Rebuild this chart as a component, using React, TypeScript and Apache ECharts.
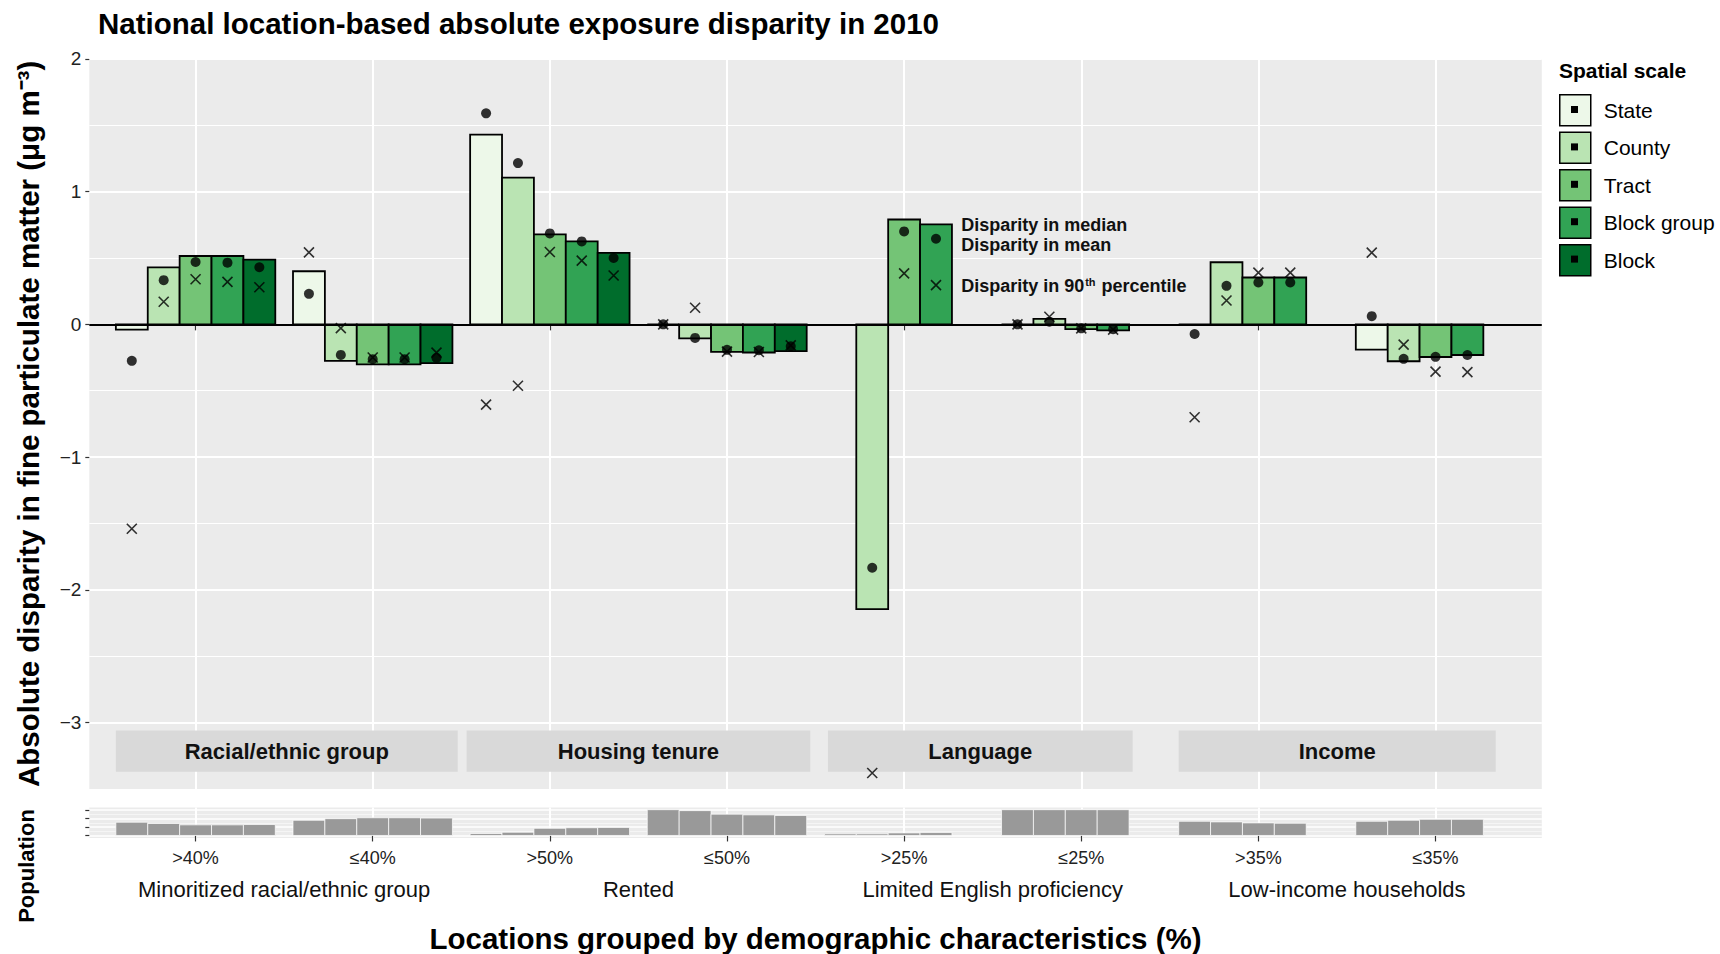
import React, { useEffect, useRef } from "react";
import * as echarts from "echarts";

// ---------- data ----------
const scales = ["State", "County", "Tract", "Block group", "Block"];
const scaleColors = ["#EDF8E9", "#BAE4B3", "#74C476", "#31A354", "#006D2C"];
const tickLabels = [">40%", "≤40%", ">50%", "≤50%", ">25%", "≤25%", ">35%", "≤35%"];
const groupNames = [
  "Minoritized racial/ethnic group",
  "Rented",
  "Limited English proficiency",
  "Low-income households",
];
const stripNames = ["Racial/ethnic group", "Housing tenure", "Language", "Income"];
const stripStart = [0.55, 2.53, 4.57, 6.55];
const stripEnd = [2.48, 4.47, 6.29, 8.34];
const stripTop = -3.06;
const stripBottom = -3.37;

// disparity in mean (bars)
const meanState = [-0.04, 0.4, 1.43, 0, null, 0, 0, -0.19];
const meanCounty = [0.43, -0.275, 1.105, -0.105, -2.145, 0.042, 0.468, -0.278];
const meanTract = [0.515, -0.302, 0.678, -0.208, 0.79, -0.036, 0.353, -0.246];
const meanBlockGroup = [0.515, -0.302, 0.625, -0.212, 0.754, -0.046, 0.353, -0.231];
const meanBlock = [0.488, -0.292, 0.538, -0.202, null, null, null, null];

// disparity in median (dots)
const medianState = [-0.275, 0.23, 1.59, 0, null, 0, -0.073, 0.062];
const medianCounty = [0.333, -0.23, 1.215, -0.102, -1.834, 0.02, 0.29, -0.26];
const medianTract = [0.47, -0.262, 0.685, -0.192, 0.7, -0.03, 0.316, -0.245];
const medianBlockGroup = [0.465, -0.262, 0.625, -0.195, 0.645, -0.037, 0.316, -0.231];
const medianBlock = [0.43, -0.252, 0.5, -0.165, null, null, null, null];

// disparity in 90th percentile (crosses)
const p90State = [-1.54, 0.542, -0.605, 0, null, 0, -0.7, 0.54];
const p90County = [0.17, -0.028, -0.463, 0.125, -3.38, 0.057, 0.18, -0.153];
const p90Tract = [0.34, -0.25, 0.545, -0.205, 0.384, -0.03, 0.39, -0.356];
const p90BlockGroup = [0.32, -0.25, 0.48, -0.208, 0.296, -0.04, 0.39, -0.36];
const p90Block = [0.28, -0.213, 0.368, -0.158, null, null, null, null];

// population (relative, axis units)
const popState = [1.56, 1.79, 0.23, 3.04, 0.19, 3.04, 1.67, 1.67];
const popCounty = [1.41, 1.98, 0.38, 2.93, 0.19, 3.04, 1.6, 1.79];
const popTract = [1.25, 2.09, 0.84, 2.51, 0.3, 3.04, 1.48, 1.9];
const popBlockGroup = [1.25, 2.09, 0.91, 2.43, 0.34, 3.04, 1.44, 1.9];
const popBlock = [1.29, 2.05, 0.95, 2.36, null, null, null, null];

const yTicks = [-3, -2, -1, 0, 1, 2];
const yMinor = [-2.5, -1.5, -0.5, 0.5, 1.5];
const popTicks = [0, 1, 2, 3];
const popMinor = [0.5, 1.5, 2.5];

const annotationTexts = ["Disparity in median", "Disparity in mean", "{b|Disparity in 90}{s|th}{b| percentile}"];
const annotationX = [5.322, 5.322, 5.322];
const annotationY = [0.749, 0.6, 0.286];

const meanByScale = [meanState, meanCounty, meanTract, meanBlockGroup, meanBlock];
const medianByScale = [medianState, medianCounty, medianTract, medianBlockGroup, medianBlock];
const p90ByScale = [p90State, p90County, p90Tract, p90BlockGroup, p90Block];
const popByScale = [popState, popCounty, popTract, popBlockGroup, popBlock];

// ---------- style constants ----------
const FONT = "'Liberation Sans', Arial, Helvetica, sans-serif";
const DODGE = 0.18;
const HALF = 0.09;
const XMIN = 0.4;
const XMAX = 8.6;
const LEG_LEFT = 1559;
const LEG_TOP = 94;
const LEG_KEY = 31;
const LEG_GAP = 5;
const LEG_STEP = 37.4;

const tickPositions = tickLabels.map((_, i) => i + 1);
const groupCenters = groupNames.map((_, i) => 2 * i + 1.5);
const xOf = (g: number, k: number) => g + 1 + (k - 2) * DODGE;

function pointsFor(values: (number | null)[], k: number) {
  const out: number[][] = [];
  values.forEach((v, g) => {
    if (v !== null && v !== undefined) out.push([xOf(g, k), v]);
  });
  return out;
}

const barRender = (fill: string, stroke: string, lw: number) => (params: any, api: any) => {
  const x = api.value(0);
  const v = api.value(1);
  const a = api.coord([x - HALF, 0]);
  const b = api.coord([x + HALF, v]);
  return {
    type: "rect",
    shape: {
      x: a[0],
      y: Math.min(a[1], b[1]),
      width: b[0] - a[0],
      height: Math.abs(b[1] - a[1]),
    },
    style: { fill, stroke, lineWidth: lw },
  };
};

export default function App() {
  const ref = useRef<HTMLDivElement>(null);

  useEffect(() => {
    document.body.style.margin = "0";
    if (!ref.current) return;
    const chart = echarts.init(ref.current, null, { renderer: "svg" });

    const barSeries = scales.map((name, k) => ({
      name,
      type: "custom",
      xAxisIndex: 0,
      yAxisIndex: 0,
      z: 3,
      itemStyle: { color: scaleColors[k], borderColor: "#000", borderWidth: 1.5 },
      encode: { x: 0, y: 1 },
      data: pointsFor(meanByScale[k], k),
      renderItem: barRender(scaleColors[k], "#000", 1.8),
    }));

    const popSeries = scales.map((name, k) => ({
      name: "Population " + name,
      type: "custom",
      xAxisIndex: 1,
      yAxisIndex: 2,
      z: 3,
      itemStyle: { color: "#999999" },
      encode: { x: 0, y: 1 },
      data: pointsFor(popByScale[k], k),
      renderItem: barRender("#999999", "#ffffff", 0.7),
    }));

    const medianData: number[][] = [];
    const p90Data: number[][] = [];
    scales.forEach((_, k) => {
      medianData.push(...pointsFor(medianByScale[k], k));
      p90Data.push(...pointsFor(p90ByScale[k], k));
    });

    const stripSeries = {
      name: "strips",
      type: "custom",
      xAxisIndex: 0,
      yAxisIndex: 0,
      z: 2,
      silent: true,
      encode: { x: [0, 2], y: [1, 3] },
      data: stripNames.map((_, i) => [stripStart[i], stripTop, stripEnd[i], stripBottom]),
      renderItem: (params: any, api: any) => {
        const i = params.dataIndex;
        const p0 = api.coord([api.value(0), api.value(1)]);
        const p1 = api.coord([api.value(2), api.value(3)]);
        return {
          type: "group",
          children: [
            {
              type: "rect",
              shape: { x: p0[0], y: p0[1], width: p1[0] - p0[0], height: p1[1] - p0[1] },
              style: { fill: "#D9D9D9" },
            },
            {
              type: "text",
              x: (p0[0] + p1[0]) / 2,
              y: (p0[1] + p1[1]) / 2,
              style: {
                text: stripNames[i],
                align: "center",
                verticalAlign: "middle",
                fontSize: 22,
                fontWeight: "bold",
                fontFamily: FONT,
                fill: "#111",
              },
            },
          ],
        };
      },
    };

    const annotationSeries = {
      name: "annotations",
      type: "custom",
      xAxisIndex: 0,
      yAxisIndex: 0,
      z: 5,
      silent: true,
      encode: { x: 0, y: 1 },
      data: annotationTexts.map((_, i) => [annotationX[i], annotationY[i]]),
      renderItem: (params: any, api: any) => {
        const i = params.dataIndex;
        const p = api.coord([api.value(0), api.value(1)]);
        return {
          type: "text",
          x: p[0],
          y: p[1],
          style: {
            text: annotationTexts[i],
            align: "left",
            verticalAlign: "middle",
            fontSize: 18,
            fontWeight: "bold",
            fontFamily: FONT,
            fill: "#111",
            rich: {
              b: { fontSize: 18, fontWeight: "bold", fontFamily: FONT, fill: "#111" },
              s: { fontSize: 11, fontWeight: "bold", fontFamily: FONT, fill: "#111", verticalAlign: "top", padding: [0, 1, 8, 1] },
            },
          },
        };
      },
    };

    const option: any = {
      animation: false,
      textStyle: { fontFamily: FONT },
      title: {
        text: "National location-based absolute exposure disparity in 2010",
        left: 98,
        top: 8,
        padding: 0,
        textStyle: { fontSize: 29.5, fontWeight: "bold", color: "#000", fontFamily: FONT },
      },
      legend: {
        data: scales,
        orient: "vertical",
        left: LEG_LEFT,
        top: LEG_TOP,
        padding: 0,
        itemWidth: LEG_KEY,
        itemHeight: LEG_KEY,
        itemGap: LEG_GAP,
        icon: "rect",
        itemStyle: { borderColor: "#000", borderWidth: 1.5 },
        textStyle: { fontSize: 21, color: "#000", fontFamily: FONT, padding: [0, 0, 0, 8] },
        selectedMode: false,
      },
      grid: [
        { left: 89.3, top: 58.9, width: 1452.5, height: 730, show: true, backgroundColor: "#EBEBEB", borderWidth: 0 },
        { left: 89.3, top: 807.5, width: 1452.5, height: 32, show: true, backgroundColor: "#EBEBEB", borderWidth: 0 },
      ],
      xAxis: [
        {
          type: "value",
          gridIndex: 0,
          min: XMIN,
          max: XMAX,
          axisLine: { show: false },
          axisTick: { show: true, customValues: tickPositions, length: 6, lineStyle: { color: "#333", width: 1.2 } },
          axisLabel: { show: false, customValues: tickPositions },
          splitLine: { show: true, lineStyle: { color: "#ffffff", width: 2 } },
        },
        {
          type: "value",
          gridIndex: 1,
          min: XMIN,
          max: XMAX,
          axisLine: { show: false },
          axisTick: { show: true, customValues: tickPositions, length: 6, lineStyle: { color: "#333", width: 1.2 } },
          axisLabel: {
            customValues: tickPositions,
            formatter: (v: number) => tickLabels[Math.round(v) - 1] ?? "",
            fontSize: 18,
            color: "#222",
            margin: 11,
            fontFamily: FONT,
          },
          splitLine: { show: true, lineStyle: { color: "#ffffff", width: 2 } },
        },
        {
          type: "value",
          gridIndex: 1,
          position: "bottom",
          min: XMIN,
          max: XMAX,
          axisLine: { show: false },
          axisTick: { show: false, customValues: groupCenters },
          axisLabel: {
            customValues: groupCenters,
            formatter: (v: number) => groupNames[Math.round((v - 1.5) / 2)] ?? "",
            fontSize: 22,
            color: "#111",
            margin: 40,
            fontFamily: FONT,
          },
          splitLine: { show: false },
          name: "Locations grouped by demographic characteristics (%)",
          nameLocation: "middle",
          nameGap: 85,
          nameTextStyle: { fontSize: 29.5, fontWeight: "bold", color: "#000", fontFamily: FONT },
        },
      ],
      yAxis: [
        {
          type: "value",
          gridIndex: 0,
          position: "left",
          min: -3.5,
          max: 2,
          axisLine: { show: false },
          axisTick: { show: true, customValues: yTicks, length: 4, lineStyle: { color: "#333", width: 1.2 } },
          axisLabel: {
            customValues: yTicks,
            formatter: (v: number) => String(v).replace("-", "\u2212"),
            fontSize: 19,
            color: "#222",
            margin: 8,
            fontFamily: FONT,
          },
          splitLine: { show: true, lineStyle: { color: "#ffffff", width: 2 } },
          name: "Absolute disparity in fine particulate matter (μg m⁻³)",
          nameLocation: "middle",
          nameGap: 46,
          nameTextStyle: { fontSize: 29.5, fontWeight: "bold", color: "#000", fontFamily: FONT },
        },
        {
          type: "value",
          gridIndex: 0,
          position: "left",
          min: -3.5,
          max: 2,
          axisLine: { show: false },
          axisTick: { show: false, customValues: yMinor },
          axisLabel: { show: false, customValues: yMinor },
          splitLine: { show: true, lineStyle: { color: "#ffffff", width: 1 } },
        },
        {
          type: "value",
          gridIndex: 1,
          position: "left",
          min: -0.3,
          max: 3.3,
          axisLine: { show: false },
          axisTick: { show: true, customValues: popTicks, length: 4, lineStyle: { color: "#333", width: 1.2 } },
          axisLabel: { show: false, customValues: popTicks },
          splitLine: { show: true, lineStyle: { color: "#ffffff", width: 1.5 } },
        },
        {
          type: "value",
          gridIndex: 1,
          position: "left",
          min: -0.3,
          max: 3.3,
          axisLine: { show: false },
          axisTick: { show: false, customValues: popMinor },
          axisLabel: { show: false, customValues: popMinor },
          splitLine: { show: true, lineStyle: { color: "#F7F7F7", width: 0.8 } },
        },
      ],
      graphic: [
        {
          type: "text",
          left: LEG_LEFT,
          top: 60,
          style: { text: "Spatial scale", fontSize: 21, fontWeight: "bold", fill: "#000", fontFamily: FONT },
        },
        ...scales.map((_, i) => ({
          type: "rect",
          shape: {
            x: LEG_LEFT + LEG_KEY / 2 - 3.5,
            y: LEG_TOP + i * LEG_STEP + LEG_KEY / 2 - 3.5,
            width: 7,
            height: 7,
          },
          style: { fill: "#000" },
          z: 100,
        })),
        {
          type: "text",
          x: 26,
          y: 866,
          rotation: Math.PI / 2,
          style: {
            text: "Population",
            fontSize: 22,
            fontWeight: "bold",
            fill: "#000",
            fontFamily: FONT,
            align: "center",
            verticalAlign: "middle",
          },
        },
      ],
      series: [
        stripSeries,
        ...barSeries,
        ...popSeries,
        {
          name: "Disparity in median",
          type: "scatter",
          xAxisIndex: 0,
          yAxisIndex: 0,
          z: 6,
          symbol: "circle",
          symbolSize: 10,
          itemStyle: { color: "#000" },
          data: medianData,
          markLine: {
            silent: true,
            symbol: "none",
            label: { show: false },
            lineStyle: { color: "#000", width: 2, type: "solid" },
            data: [{ yAxis: 0 }],
          },
        },
        {
          name: "Disparity in 90th percentile",
          type: "scatter",
          xAxisIndex: 0,
          yAxisIndex: 0,
          z: 6,
          symbol: "path://M0,0L10,10M10,0L0,10",
          symbolSize: 10,
          itemStyle: { color: "none", borderColor: "#000", borderWidth: 1.6 },
          data: p90Data,
        },
        annotationSeries,
      ],
    };

    chart.setOption(option);
    return () => chart.dispose();
  }, []);

  return <div ref={ref} style={{ width: 1720, height: 954 }} />;
}
